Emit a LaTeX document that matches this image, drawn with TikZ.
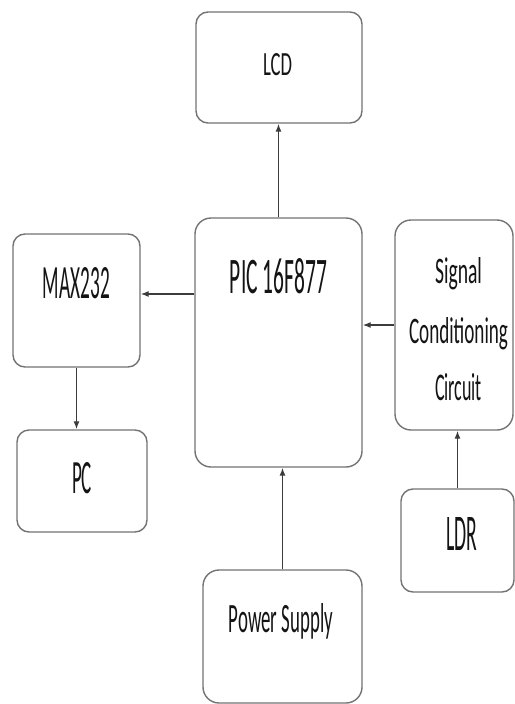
\documentclass[tikz,border=0pt]{standalone}
\usepackage{fontspec}
\setmainfont{Carlito}
\usetikzlibrary{arrows.meta,calc}
\definecolor{boxline}{RGB}{115,115,115}
\definecolor{arrline}{RGB}{60,60,60}
\definecolor{txt}{RGB}{20,20,20}
\begin{document}
\begin{tikzpicture}[x=1pt,y=-1pt,
  blk/.style={draw=boxline,line width=1.4pt,rounded corners=12pt,fill=white,inner sep=0pt},
  lbl/.style={anchor=base,inner sep=0pt,text=txt},
  arr/.style={draw=arrline,line width=1.2pt,-{Latex[length=8pt,width=6pt]}}]
\useasboundingbox (0,0) rectangle (514,704);
% boxes
\node[blk,minimum width=166pt,minimum height=111pt] (lcd) at (279,67.5) {};
\node[blk,minimum width=167pt,minimum height=249pt,rounded corners=16pt] (pic) at (278.5,342.5) {};
\node[blk,minimum width=127pt,minimum height=133pt] (max) at (76.5,300.5) {};
\node[blk,minimum width=130pt,minimum height=102pt] (pc) at (82,481) {};
\node[blk,minimum width=118pt,minimum height=210pt,rounded corners=16pt] (sig) at (454,325) {};
\node[blk,minimum width=113pt,minimum height=103pt] (ldr) at (457.5,540.5) {};
\node[blk,minimum width=159pt,minimum height=133pt,rounded corners=16pt] (pow) at (282.5,636.5) {};
% texts
\node[lbl] (lcdT) at (277.5,75) {\resizebox{29pt}{22pt}{LCD}};
\node[lbl] (picT) at (278.5,293) {\resizebox{97pt}{35pt}{PIC 16F877}};
\node[lbl] (maxT) at (76.5,298) {\resizebox{67pt}{31pt}{MAX232}};
\node[lbl] (pcT) at (82,493) {\resizebox{20pt}{31pt}{PC}};
\node[lbl] (sigT1) at (458.5,283) {\resizebox{47pt}{26pt}{Signal}};
\node[lbl] (sigT2) at (458.5,343) {\resizebox{99pt}{26pt}{Conditioning}};
\node[lbl] (sigT3) at (458.5,400) {\resizebox{47pt}{27pt}{Circuit}};
\node[lbl] (ldrT) at (461.5,550) {\resizebox{31pt}{33pt}{LDR}};
\node[lbl] (powT) at (281,632) {\resizebox{104pt}{29pt}{Power Supply}};
% connectors
\draw[arr] (pic.north) -- (pic.north |- lcd.south);
\draw[arr] ([yshift=6.5pt]max.east -| pic.west) -- ([yshift=6.5pt]max.east);
\draw[arr] (max.south) -- (max.south |- pc.north);
\draw[arr] (sig.west) -- (sig.west -| pic.east);
\draw[arr] (ldr.north) -- (ldr.north |- sig.south);
\draw[arr] (pow.north) -- (pow.north |- pic.south);
\end{tikzpicture}
\end{document}
